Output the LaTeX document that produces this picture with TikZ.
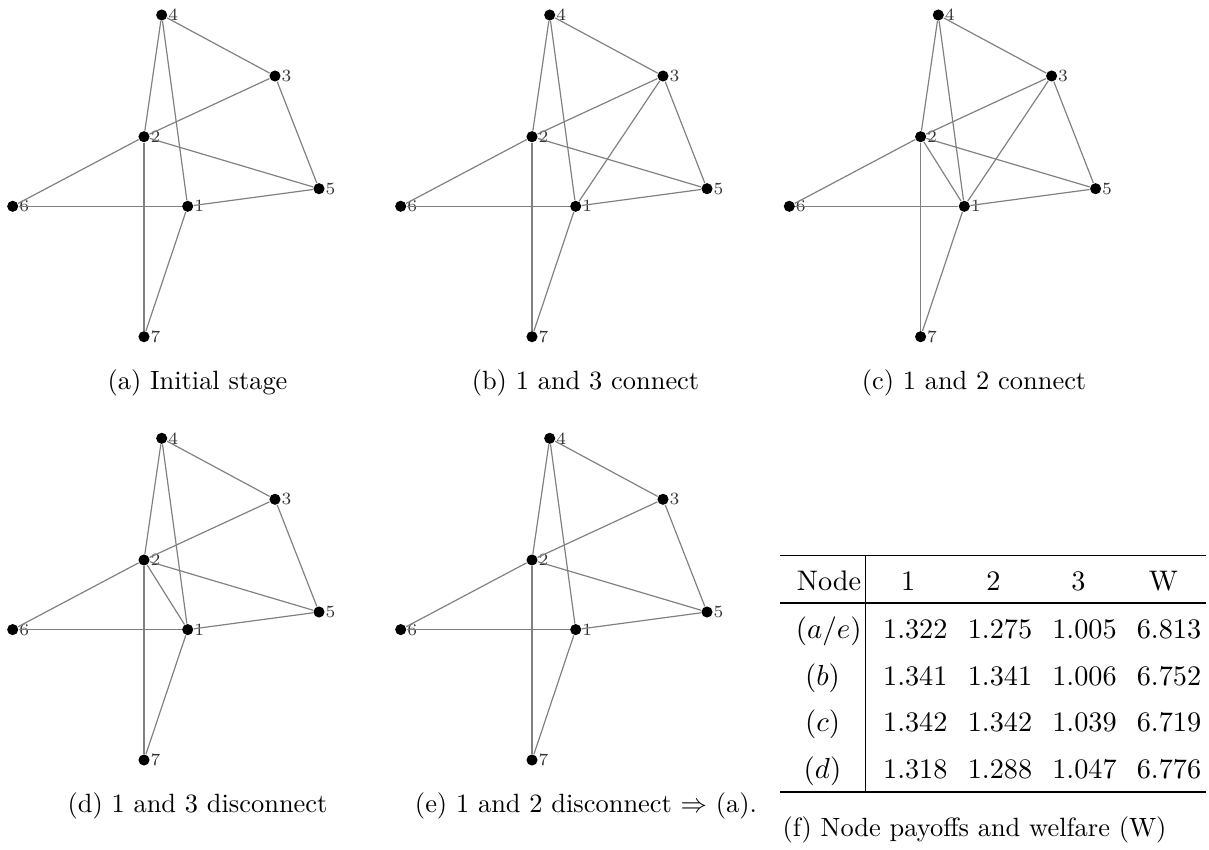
\documentclass[tikz,border=0pt]{standalone}
\usepackage{tikz}
\usetikzlibrary{positioning}

\tikzset{
	vertex/.style={circle, fill=black, inner sep=0pt, minimum size=4.2pt, label distance=1.4pt},
	vlabel/.style={font=\fontsize{6.5}{7.5}\selectfont, text=black!80, inner sep=0pt},
	link/.style={draw=gray, line width=0.45pt},
	subcap/.style={anchor=base, inner sep=0pt},
	cell/.style={anchor=base, inner sep=0pt, font=\fontsize{10.7}{13}\selectfont},
	rule/.style={line width=0.45pt}
}

% one network panel: prefix, x shift, y shift
\newcommand{\netpanel}[3]{%
	\begin{scope}[shift={(#2,#3)}]
		\foreach \v/\px/\py in {1/187.7/206.3, 2/144/136.7, 3/275/76, 4/161.7/15,
			5/319/188.7, 6/12.7/206.3, 7/144/336.7}
		\node[vertex, label={[vlabel]right:\v}] (#1\v) at (\px,\py) {};
		\foreach \s/\t in {4/2, 4/1, 4/3, 3/2, 3/5, 2/6, 2/5, 2/7, 6/1, 1/5, 1/7}
		\draw[link] (#1\s) -- (#1\t);
	\end{scope}}

\begin{document}
\begin{tikzpicture}[x=0.013313cm, y=-0.013313cm]
	\useasboundingbox (0,0) rectangle (1209,850);
	
	% Redes
	\netpanel{a}{0}{0}
	\netpanel{b}{388}{0}
	\netpanel{c}{776.6}{0}
	\netpanel{d}{0}{423.3}
	\netpanel{e}{388}{423.3}
	
	% Enlaces extra
	\draw[link] (b1) -- (b3);
	\draw[link] (c1) -- (c3);
	\draw[link] (c1) -- (c2);
	\draw[link] (d1) -- (d2);
	
	% Leyendas
	\node[subcap] (capa) at (197.5,390) {(a) Initial stage};
	\node[subcap] (capb) at (585.5,390) {(b) 1 and 3 connect};
	\node[subcap] (capc) at (974,390) {(c) 1 and 2 connect};
	\node[subcap] (capd) at (197.5,812) {(d) 1 and 3 disconnect};
	\node[subcap] (cape) at (586,812) {(e) 1 and 2 disconnect $\Rightarrow$ (a).};
	\node[subcap] (capf) at (974.5,836.7) {(f) Node payoffs and welfare (W)};
	
	% Tabla
	\node[cell] (hd0) at (829,590) {Node};
	\node[cell] (hd1) at (908.3,590) {1};
	\node[cell] (hd2) at (993.3,590) {2};
	\node[cell] (hd3) at (1078.3,590) {3};
	\node[cell] (hd4) at (1163.3,590) {W};
	
	\node[cell] (lab1) at (828.7,638.3) {$(a/e)$};
	\node[cell] (lab2) at (822.5,685) {$(b)$};
	\node[cell] (lab3) at (822.5,731.7) {$(c)$};
	\node[cell] (lab4) at (822.5,778.3) {$(d)$};
	
	\foreach \r/\yb/\va/\vb/\vc/\vw in {1/638.3/1.322/1.275/1.005/6.813,
		2/685/1.341/1.341/1.006/6.752,
		3/731.7/1.342/1.342/1.039/6.719,
		4/778.3/1.318/1.288/1.047/6.776}
	{
		\node[cell] (v\r a) at (915.3,\yb) {\va};
		\node[cell] (v\r b) at (1000,\yb) {\vb};
		\node[cell] (v\r c) at (1084.5,\yb) {\vc};
		\node[cell] (v\r w) at (1169,\yb) {\vw};
	}
	
	\coordinate (tnw) at (780,555.7);
	\coordinate (tne) at (1205.7,555.7);
	\coordinate (tmw) at (780,603);
	\coordinate (tme) at (1205.7,603);
	\coordinate (tsw) at (780,792);
	\coordinate (tse) at (1205.7,792);
	\coordinate (tvt) at (865.7,555.7);
	\coordinate (tvb) at (865.7,792);
	
	\draw[rule] (tnw) -- (tne);
	\draw[rule] (tmw) -- (tme);
	\draw[rule] (tsw) -- (tse);
	\draw[rule] (tvt) -- (tvb);
	
\end{tikzpicture}
\end{document}
